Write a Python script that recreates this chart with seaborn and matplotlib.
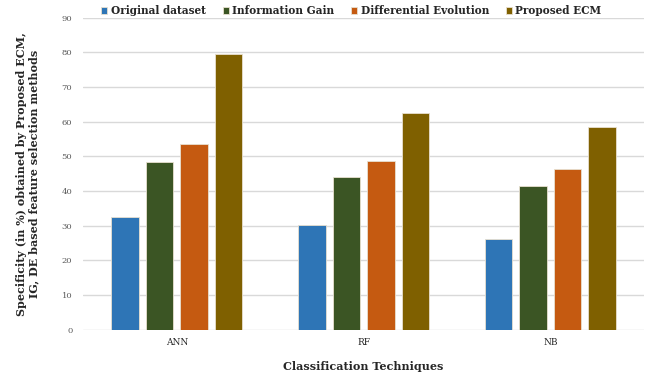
import matplotlib
matplotlib.use("Agg")
import matplotlib.pyplot as plt
import seaborn as sns
import pandas as pd

techniques = ["ANN", "RF", "NB"]
methods = ["Original dataset", "Information Gain", "Differential Evolution", "Proposed ECM"]
original = [32.4, 30.2, 26.2]
info_gain = [48.4, 44.0, 41.4]
diff_evo = [53.6, 48.5, 46.3]
proposed = [79.6, 62.5, 58.5]
colors = ["#2E75B6", "#3B5524", "#C55A11", "#7F6000"]
yticks = list(range(0, 100, 10))

rows = []
for name, vals in zip(methods, [original, info_gain, diff_evo, proposed]):
    for t, v in zip(techniques, vals):
        rows.append({"Technique": t, "Method": name, "Value": v})
df = pd.DataFrame(rows)

sns.set_style("white")
plt.rcParams["font.family"] = ["DejaVu Serif"]

fig = plt.figure(figsize=(6.47, 3.75), dpi=100)
ax = fig.add_axes([0.129, 0.121, 0.866, 0.832])

sns.barplot(data=df, x="Technique", y="Value", hue="Method", order=techniques,
            hue_order=methods, palette=colors, width=0.74, gap=0.2,
            edgecolor="#e8e0d0", linewidth=0.6, ax=ax, saturation=1, legend=True)

ax.set_ylim(0, 90)
ax.set_yticks(yticks)
ax.set_yticklabels([str(t) for t in yticks], fontsize=6, color="#595959")
ax.tick_params(axis="x", labelsize=6.5, length=0, pad=6, colors="#222222")
ax.tick_params(axis="y", length=0, pad=8)
ax.yaxis.grid(True, color="#d9d9d9", linewidth=1)
ax.set_axisbelow(True)
for s in ax.spines.values():
    s.set_visible(False)

ax.set_xlabel("Classification Techniques", fontsize=8, fontweight="bold", labelpad=10)
ax.set_ylabel("Specificity (in %) obtained by Proposed ECM,\nIG, DE based feature selection methods",
              fontsize=8, fontweight="bold", labelpad=16, linespacing=1.1)

handles, labels = ax.get_legend_handles_labels()
ax.legend(handles, labels, loc="upper center", bbox_to_anchor=(0.478, 1.07), ncol=4,
          frameon=False, prop={"weight": "bold", "size": 7.6},
          handlelength=0.6, handleheight=0.6, handletextpad=0.3, columnspacing=1.6)

fig.savefig("out.png", dpi=100)
